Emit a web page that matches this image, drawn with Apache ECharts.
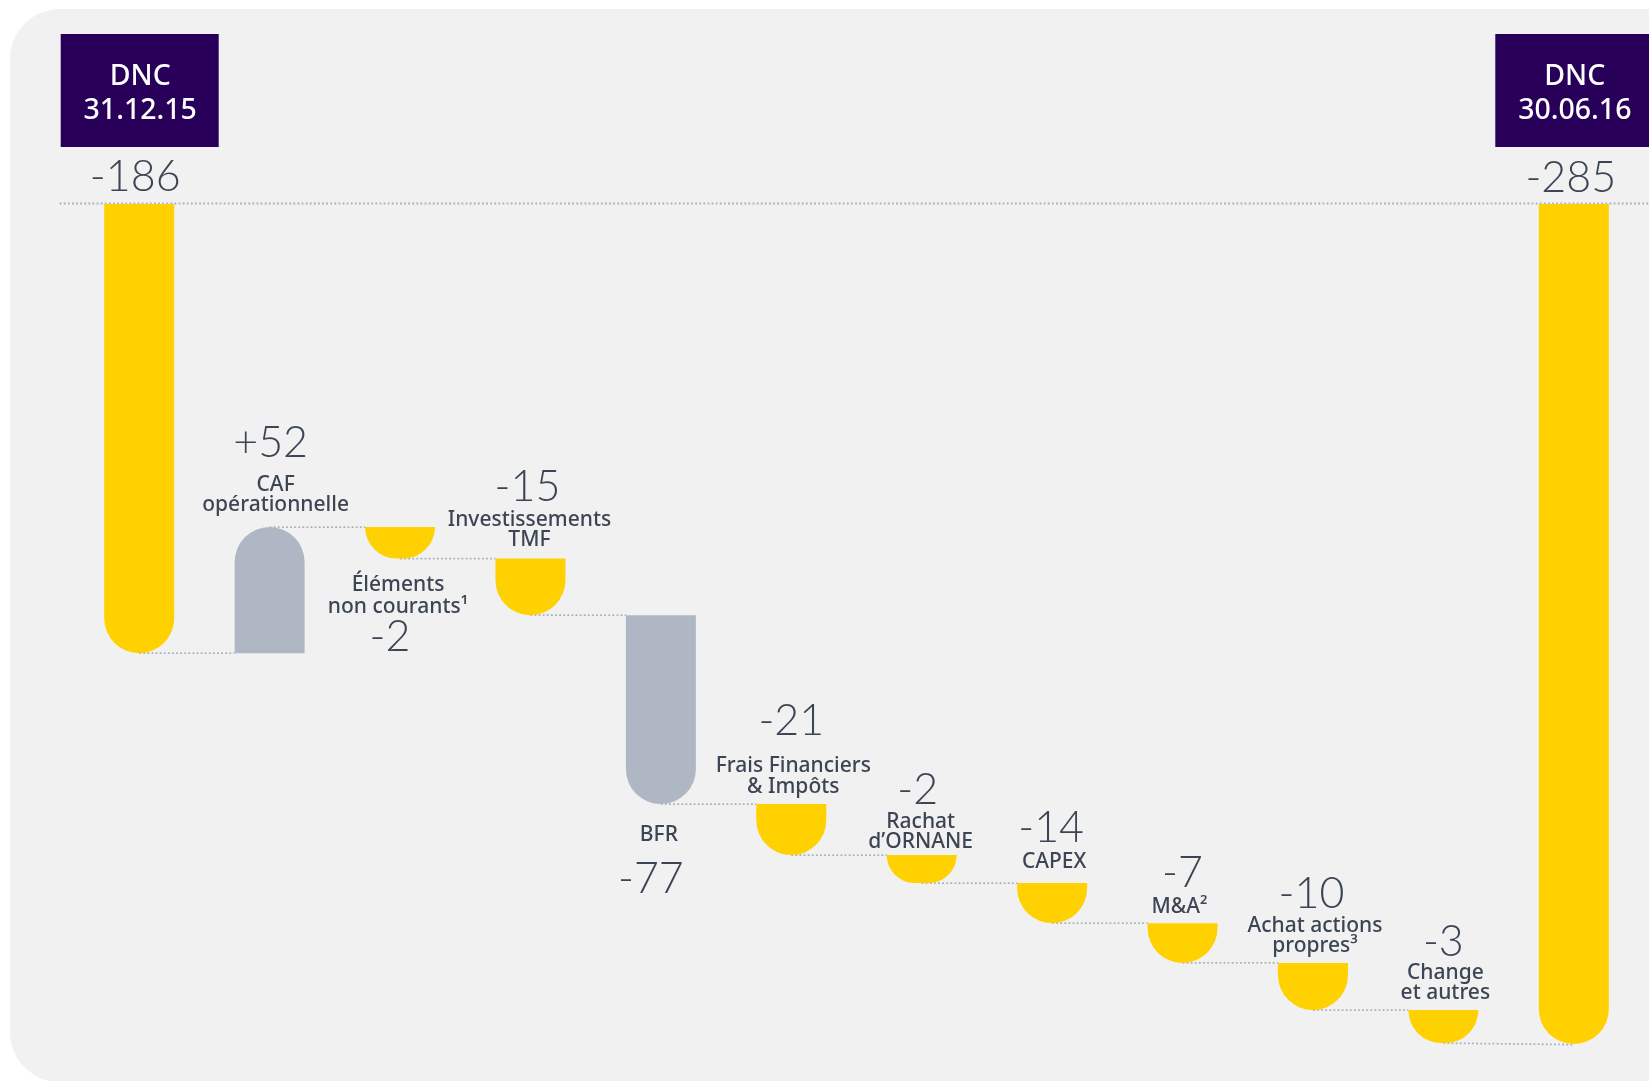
<!DOCTYPE html>
<html><head><meta charset="utf-8">
<script src="https://cdn.jsdelivr.net/npm/echarts/dist/echarts.min.js"></script>
<style>html,body{margin:0;padding:0;background:#fff;}#main{width:1649px;height:1081px;}</style>
</head><body><div id="main"></div>
<script>
// ---------------- DATA ----------------
const categories = ['DNC\n31.12.15', 'CAF\nopérationnelle', 'Éléments\nnon courants¹', 'Investissements\nTMF', 'BFR',
  'Frais Financiers\n& Impôts', 'Rachat\nd’ORNANE', 'CAPEX', 'M&A²', 'Achat actions\npropres³', 'Change\net autres', 'DNC\n30.06.16'];
const values = [-186, 52, -2, -15, -77, -21, -2, -14, -7, -10, -3, -285];
const valueLabels = ['-186', '+52', '-2', '-15', '-77', '-21', '-2', '-14', '-7', '-10', '-3', '-285'];
// The original graphic is not drawn to scale: bar lengths as they appear in the picture
// (in the same units, full end bar = -285)
const drawnLength = [-152.4, 42.8, -10.7, -19.2, -64.1, -17.3, -9.5, -13.6, -13.5, -16.0, -11.2, -285];

// ---------------- STYLE / LAYOUT ----------------
const BAR_W = 70;
const YELLOW = '#FFD100', GREY = '#B0B7C4', PURPLE = '#28005A', TXT = '#3C4554', DOT = '#A9B1BE';
const greyBars = [1, 4];
const totalBars = [0, 11];
const NAME_SHIFT = 2;
// label placement relative to bar top/bottom (px)
const labelLayout = [
  {anchor: 'top', vdx: -4, vdy: -27},
  {anchor: 'top', vdx: 1, vdy: -84, ndx: 6, ndy: -34.5, lh: 20},
  {anchor: 'bottom', vdx: -10, vdy: 79, ndx: -2, ndy: 35.75, lh: 22},
  {anchor: 'top', vdx: -3, vdy: -71, ndx: -1, ndy: -31, lh: 20},
  {anchor: 'bottom', vdx: -10, vdy: 75, ndx: -2, ndy: 29, lh: 20},
  {anchor: 'top', vdx: 0, vdy: -83, ndx: 2, ndy: -29.5, lh: 21},
  {anchor: 'top', vdx: -4, vdy: -65, ndx: -1, ndy: -25.5, lh: 20},
  {anchor: 'top', vdx: -1, vdy: -55, ndx: 2, ndy: -23, lh: 20},
  {anchor: 'top', vdx: 0, vdy: -50.5, ndx: -3, ndy: -18.5, lh: 20},
  {anchor: 'top', vdx: -1.5, vdy: -69, ndx: 2, ndy: -28.5, lh: 20},
  {anchor: 'top', vdx: 0, vdy: -68, ndx: 2, ndy: -29, lh: 20},
  {anchor: 'top', vdx: -3, vdy: -26}
];

// waterfall ranges built from the data
const ranges = [];
let level = 0;
drawnLength.forEach((len, i) => {
  let from, to;
  if (totalBars.includes(i)) { from = 0; to = len; }
  else { from = level; to = level + len; }
  level = to;
  ranges.push([i, from, to]);
});
const connectors = ranges.slice(0, -1).map(r => [r[0], r[2]]);

const VALUE_FONT = '300 43px Lato, "Open Sans", sans-serif';
const NAME_FONT = '500 21px "Noto Sans", "Open Sans", sans-serif';
const BOX_FONT = '500 28.5px "Noto Sans", "Open Sans", sans-serif';

function txt(text, x, y, font, fill, lh) {
  return {type: 'text', silent: true, style: {text, x, y, font, fill,
    align: 'center', verticalAlign: 'middle', textAlign: 'center', textVerticalAlign: 'middle',
    lineHeight: lh || undefined}};
}

const chart = echarts.init(document.getElementById('main'), null, {renderer: 'canvas'});
chart.setOption({
  animation: false,
  backgroundColor: '#ffffff',
  graphic: [{type: 'rect', left: 10, top: 9, z: -10, silent: true,
    shape: {width: 1720, height: 1073, r: 50}, style: {fill: '#F1F1F1'}}],
  grid: {left: 74, right: 10, top: 204, bottom: 37},
  xAxis: {type: 'category', data: categories, show: false},
  yAxis: {type: 'value', min: -285, max: 0, show: false},
  series: [
    {
      type: 'custom', z: 1,
      data: connectors,
      encode: {x: 0, y: 1},
      renderItem(params, api) {
        const i = api.value(0), lv = api.value(1);
        const p = api.coord([i, lv]);
        const pn = api.coord([i + 1, lv]);
        const last = (i + 1 === categories.length - 1);
        const x2 = last ? pn[0] : pn[0] - BAR_W / 2;
        const children = [{type: 'line', silent: true,
          shape: {x1: p[0], y1: p[1], x2: x2, y2: p[1] + (last ? 1.5 : 0)},
          style: {stroke: DOT, lineWidth: 1.8, lineDash: [1.8, 2.3]}}];
        if (i === 0) {
          const z0 = api.coord([0, 0]);
          children.push({type: 'line', silent: true,
            shape: {x1: z0[0] - 79.5, y1: z0[1] - 0.5, x2: 1700, y2: z0[1] - 0.5},
            style: {stroke: DOT, lineWidth: 1.8, lineDash: [1.8, 2.3]}});
        }
        return {type: 'group', children};
      }
    },
    {
      type: 'custom', z: 3,
      data: ranges,
      encode: {x: 0, y: [1, 2]},
      renderItem(params, api) {
        const i = api.value(0), from = api.value(1), to = api.value(2);
        const p1 = api.coord([i, from]), p2 = api.coord([i, to]);
        const cx = p1[0];
        const yTop = Math.min(p1[1], p2[1]), yBot = Math.max(p1[1], p2[1]);
        const h = yBot - yTop;
        const up = to > from;
        const r = Math.min(BAR_W / 2, h);
        const children = [{
          type: 'rect', silent: true,
          shape: {x: cx - BAR_W / 2, y: yTop, width: BAR_W, height: h, r: up ? [r, r, 0, 0] : [0, 0, r, r]},
          style: {fill: greyBars.includes(i) ? GREY : YELLOW}
        }];
        const L = labelLayout[i];
        const ay = L.anchor === 'top' ? yTop : yBot;
        children.push(txt(valueLabels[i], cx + L.vdx, ay + L.vdy, VALUE_FONT, TXT));
        if (totalBars.includes(i)) {
          children.push({type: 'rect', silent: true,
            shape: {x: cx - 78.5, y: 34, width: 158, height: 113}, style: {fill: PURPLE}});
          children.push(txt(categories[i], cx + 1, 94, BOX_FONT, '#ffffff', 34));
        } else {
          children.push(txt(categories[i], cx + L.ndx, ay + L.ndy + NAME_SHIFT, NAME_FONT, TXT, L.lh));
        }
        return {type: 'group', children};
      }
    }
  ]
});
</script></body></html>
